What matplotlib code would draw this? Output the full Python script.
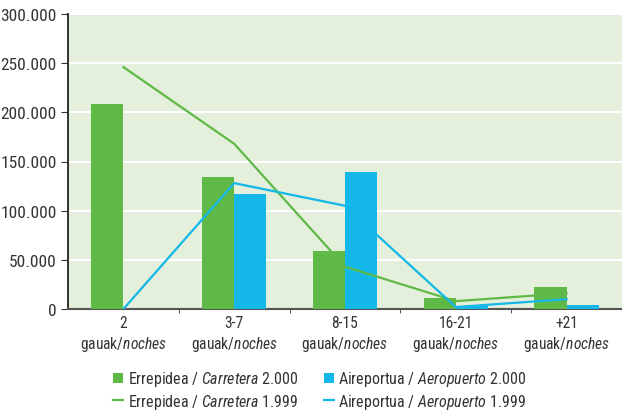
import matplotlib
matplotlib.use('Agg')
import matplotlib.pyplot as plt
import numpy as np

FONT = 'Roboto Condensed'
plt.rcParams['font.family'] = [FONT, 'DejaVu Sans']
plt.rcParams['mathtext.fontset'] = 'custom'
plt.rcParams['mathtext.rm'] = FONT
plt.rcParams['mathtext.it'] = FONT + ':italic'

categories = ['2', '3-7', '8-15', '16-21', '+21']
road_2000 = [208000, 134000, 59000, 11000, 22000]
airport_2000 = [0, 117000, 139000, 3000, 4000]
road_1999 = [246000, 168000, 43000, 8000, 16000]
airport_1999 = [0, 128000, 105000, 2000, 10000]

GREEN = '#5fb946'
BLUE = '#14b8e8'
TXT = '#333333'

fig = plt.figure(figsize=(6.22, 4.14), dpi=100)
ax = fig.add_axes([68/622, 1-310/414, 1-68/622, (310-15)/414])
ax.set_facecolor('#e4efdc')

x = np.arange(len(categories))
w = 0.29
ax.bar(x - w/2, road_2000, w, color=GREEN, zorder=3,
       label='Errepidea / $\\mathit{Carretera}$ 2.000')
ax.bar(x + w/2, airport_2000, w, color=BLUE, zorder=3,
       label='Aireportua / $\\mathit{Aeropuerto}$ 2.000')
ax.plot(x, road_1999, color=GREEN, lw=1.6, zorder=4,
        label='Errepidea / $\\mathit{Carretera}$ 1.999')
ax.plot(x, airport_1999, color=BLUE, lw=1.6, zorder=4,
        label='Aireportua / $\\mathit{Aeropuerto}$ 1.999')

ax.set_xlim(-0.5, len(categories) - 0.5)
ax.set_ylim(0, 300000)
ax.set_yticks(np.arange(0, 300001, 50000))
ax.set_yticklabels(['0'] + ['%d.000' % (v // 1000) for v in range(50000, 300001, 50000)],
                   fontsize=12.5, color=TXT)
ax.yaxis.grid(True, color='white', lw=1.5, zorder=0)
ax.set_axisbelow(True)

ax.set_xticks(x)
ax.set_xticklabels([c + '\ngauak/$\\mathit{noches}$' for c in categories],
                   fontsize=11.2, color=TXT, linespacing=1.3)
ax.set_xticks(np.arange(0.5, len(categories) - 0.5, 1), minor=True)
ax.tick_params(axis='x', which='major', length=0, pad=4)
ax.tick_params(axis='x', which='minor', length=3, color='#333333', direction='out')
ax.tick_params(axis='y', length=5, color='#333333', pad=3)

for s in ['top', 'right']:
    ax.spines[s].set_visible(False)
ax.spines['left'].set_color('#222222')
ax.spines['left'].set_linewidth(1.3)
ax.spines['bottom'].set_color('#555555')
ax.spines['bottom'].set_linewidth(1.5)

h, l = ax.get_legend_handles_labels()
order = [2, 0, 3, 1]
leg = fig.legend([h[i] for i in order], [l[i] for i in order], ncol=2,
                 loc='center', bbox_to_anchor=(320/622, 1-391/414),
                 frameon=False, fontsize=11.5, handlelength=0.6, handleheight=0.6,
                 handletextpad=0.3, columnspacing=1.6, labelspacing=0.2,
                 labelcolor=TXT, borderpad=0)

fig.savefig('out.png', dpi=100)
